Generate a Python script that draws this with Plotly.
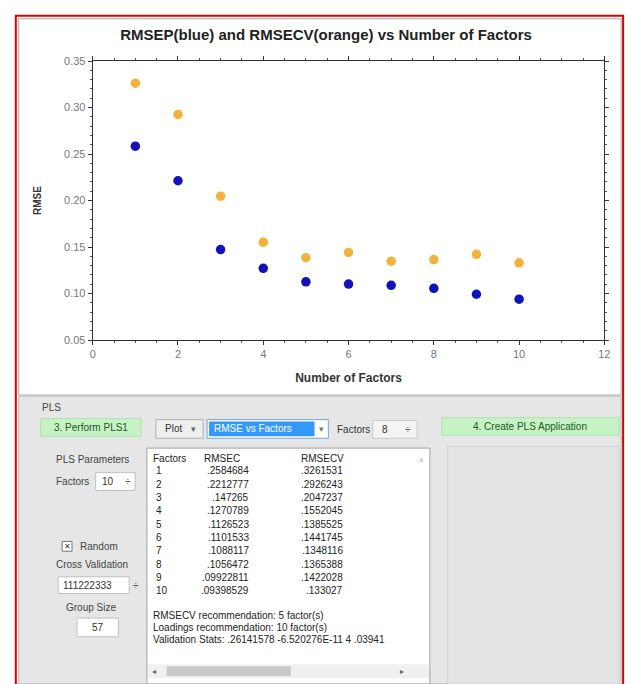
import plotly.graph_objects as go

W, H = 636, 684

# ---- data ----
factors = [1, 2, 3, 4, 5, 6, 7, 8, 9, 10]
rmsep = [0.2584684, 0.2212777, 0.147265, 0.1270789, 0.1126523,
         0.1101533, 0.1088117, 0.1056472, 0.09922811, 0.09398529]
rmsecv = [0.3261531, 0.2926243, 0.2047237, 0.1552045, 0.1385525,
          0.1441745, 0.1348116, 0.1365388, 0.1422028, 0.133027]
x_ticks = [0, 2, 4, 6, 8, 10, 12]
y_ticks = [0.05, 0.10, 0.15, 0.20, 0.25, 0.30, 0.35]

title_text = "RMSEP(blue) and RMSECV(orange) vs Number of Factors"
x_title = "Number of Factors"
y_title = "RMSE"
table_header = ["Factors", "RMSEC", "RMSECV"]
summary_lines = ["RMSECV recommendation: 5 factor(s)",
                 "Loadings recommendation: 10 factor(s)",
                 "Validation Stats: .26141578 -6.520276E-11 4 .03941"]

FONT = "Liberation Sans, Arial, sans-serif"


def px(x):
    return x / W


def py(y):
    return 1 - y / H


shapes = []
annotations = []


def rect(x0, y0, x1, y1, fill=None, line=None, lw=1):
    shapes.append(dict(type="rect", xref="paper", yref="paper",
                       x0=px(x0), x1=px(x1), y0=py(y1), y1=py(y0),
                       fillcolor=fill if fill else "rgba(0,0,0,0)",
                       line=dict(color=line if line else "rgba(0,0,0,0)", width=lw if line else 0),
                       layer="below"))


def txt(x, y, s, size=10, color="#333333", xanchor="left", bold=False):
    annotations.append(dict(xref="paper", yref="paper", x=px(x), y=py(y),
                            text=("<b>%s</b>" % s) if bold else s,
                            showarrow=False, xanchor=xanchor, yanchor="middle",
                            font=dict(family=FONT, size=size, color=color)))


def fmt(v):
    s = ("%.8f" % v).rstrip("0")
    return s[1:] if s.startswith("0") else s


# ---- window chrome ----
rect(16, 13, 627, 396, fill="#ffffff", line="#a8a8a8")
rect(16, 397, 627, 690, fill="#e6e6e6", line="#b8b8b8")

# panel: PLS group
txt(38, 409, "PLS", 10, "#444444")
rect(38, 420, 140, 438, fill="#c6f2c6", line="#b0e0b0")
txt(89, 429, "3. Perform PLS1", 10, "#205a20", "center")

rect(155, 421, 203, 440, fill="#eeeeee", line="#b0b0b0")
txt(162, 430.5, "Plot", 10, "#333333")
txt(193, 430.5, "▾", 9, "#666666", "center")

rect(207, 421, 330, 440, fill="#ffffff", line="#7aa0d8")
rect(209, 423, 316, 438, fill="#3399ff")
txt(212, 430.5, "RMSE vs Factors", 10, "#ffffff")
txt(323, 430.5, "▾", 9, "#777777", "center")

txt(337, 431, "Factors", 10, "#333333")
rect(375, 422, 420, 440, fill="#f4f4f4", line="#c8c8c8")
txt(382, 431, "8", 10, "#333333")
txt(411, 431, "÷", 10, "#555555", "center")

rect(445, 419, 625, 437, fill="#c6f2c6", line="#b0e0b0")
txt(535, 428, "4. Create PLS Application", 10, "#205a20", "center")

# left parameter column
txt(52, 462, "PLS Parameters", 10, "#444444")
txt(52, 484, "Factors", 10, "#444444")
rect(94, 475, 134, 493, fill="#ffffff", line="#c0c0c0")
txt(98, 484, "10", 10, "#333333")
txt(127, 484, "÷", 10, "#555555", "center")

rect(60, 545, 70, 555, fill="#ffffff", line="#777777")
txt(65, 550, "✕", 8, "#333333", "center")
txt(76, 550, "Random", 10, "#444444")
txt(52, 568, "Cross Validation", 10, "#444444")
rect(56, 581, 128, 598, fill="#ffffff", line="#c0c0c0")
txt(59, 589.5, "111222333", 10, "#333333")
txt(135, 589.5, "÷", 10, "#555555", "center")
txt(62, 612, "Group Size", 10, "#444444")
rect(75, 623, 117, 642, fill="#ffffff", line="#c0c0c0")
txt(96, 632.5, "57", 10, "#333333", "center")

# results list box
rect(146, 450, 433, 690, fill="#ffffff", line="#a0a0a0")
rect(147, 670, 432, 684, fill="#f0f0f0")
rect(166, 672, 292, 682, fill="#c8c8c8")
txt(153, 677, "◂", 8, "#666666", "center")
txt(405, 677, "▸", 8, "#666666", "center")
txt(424, 463, "˄", 8, "#999999", "center")

txt(150, 461, table_header[0], 10, "#222222")
txt(202, 461, table_header[1], 10, "#222222")
txt(300, 461, table_header[2], 10, "#222222")
for i, f in enumerate(factors):
    yy = 473 + i * 13.6
    txt(153, yy, str(f), 10, "#222222")
    txt(252, yy, fmt(rmsep[i]), 10, "#222222", "right")
    txt(347, yy, fmt(rmsecv[i]), 10, "#222222", "right")
for j, line in enumerate(summary_lines):
    txt(150, 620 + j * 12.5, line, 10, "#222222")

# right placeholder panel
rect(451, 448, 625, 690, fill="#e3e3e3", line="#d2d2d2")

# red outline
rect(13, 10, 629, 700, line="#e00000", lw=2)

# ---- chart ----
fig = go.Figure()
fig.add_trace(go.Scatter(x=factors, y=rmsecv, mode="markers", name="RMSECV",
                         marker=dict(color="#f2b23c", size=9.5, line=dict(width=0))))
fig.add_trace(go.Scatter(x=factors, y=rmsep, mode="markers", name="RMSEP",
                         marker=dict(color="#1212b8", size=9.5, line=dict(width=0))))

fig.update_layout(
    width=W, height=H, margin=dict(l=0, r=0, t=0, b=0),
    paper_bgcolor="#ffffff", plot_bgcolor="#ffffff",
    showlegend=False,
    font=dict(family=FONT),
    shapes=shapes, annotations=annotations,
    xaxis=dict(domain=[px(91), px(610)], range=[0, 12], tickvals=x_ticks,
               showgrid=False, zeroline=False, showline=True, linecolor="#333333",
               linewidth=1, mirror="ticks", ticks="outside", ticklen=4,
               tickcolor="#333333",
               minor=dict(dtick=0.5, ticks="outside", ticklen=2, tickcolor="#555555"),
               tickfont=dict(size=11, color="#777777", family=FONT),
               title=dict(text="<b>%s</b>" % x_title, standoff=14,
                          font=dict(size=12, color="#333333", family=FONT))),
    yaxis=dict(domain=[py(340), py(56)], range=[0.05, 0.35], tickvals=y_ticks,
               tickformat=".2f",
               showgrid=False, zeroline=False, showline=True, linecolor="#333333",
               linewidth=1, mirror="ticks", ticks="outside", ticklen=4,
               tickcolor="#333333",
               minor=dict(dtick=0.01, ticks="outside", ticklen=2, tickcolor="#555555"),
               tickfont=dict(size=11, color="#777777", family=FONT),
               title=dict(text="<b>%s</b>" % y_title, standoff=20,
                          font=dict(size=10, color="#333333", family=FONT))),
    title=dict(text="<b>%s</b>" % title_text, x=px(326), xanchor="center",
               y=py(35), yanchor="middle",
               font=dict(size=15, color="#222222", family=FONT)),
)

fig.write_html("out.html")
